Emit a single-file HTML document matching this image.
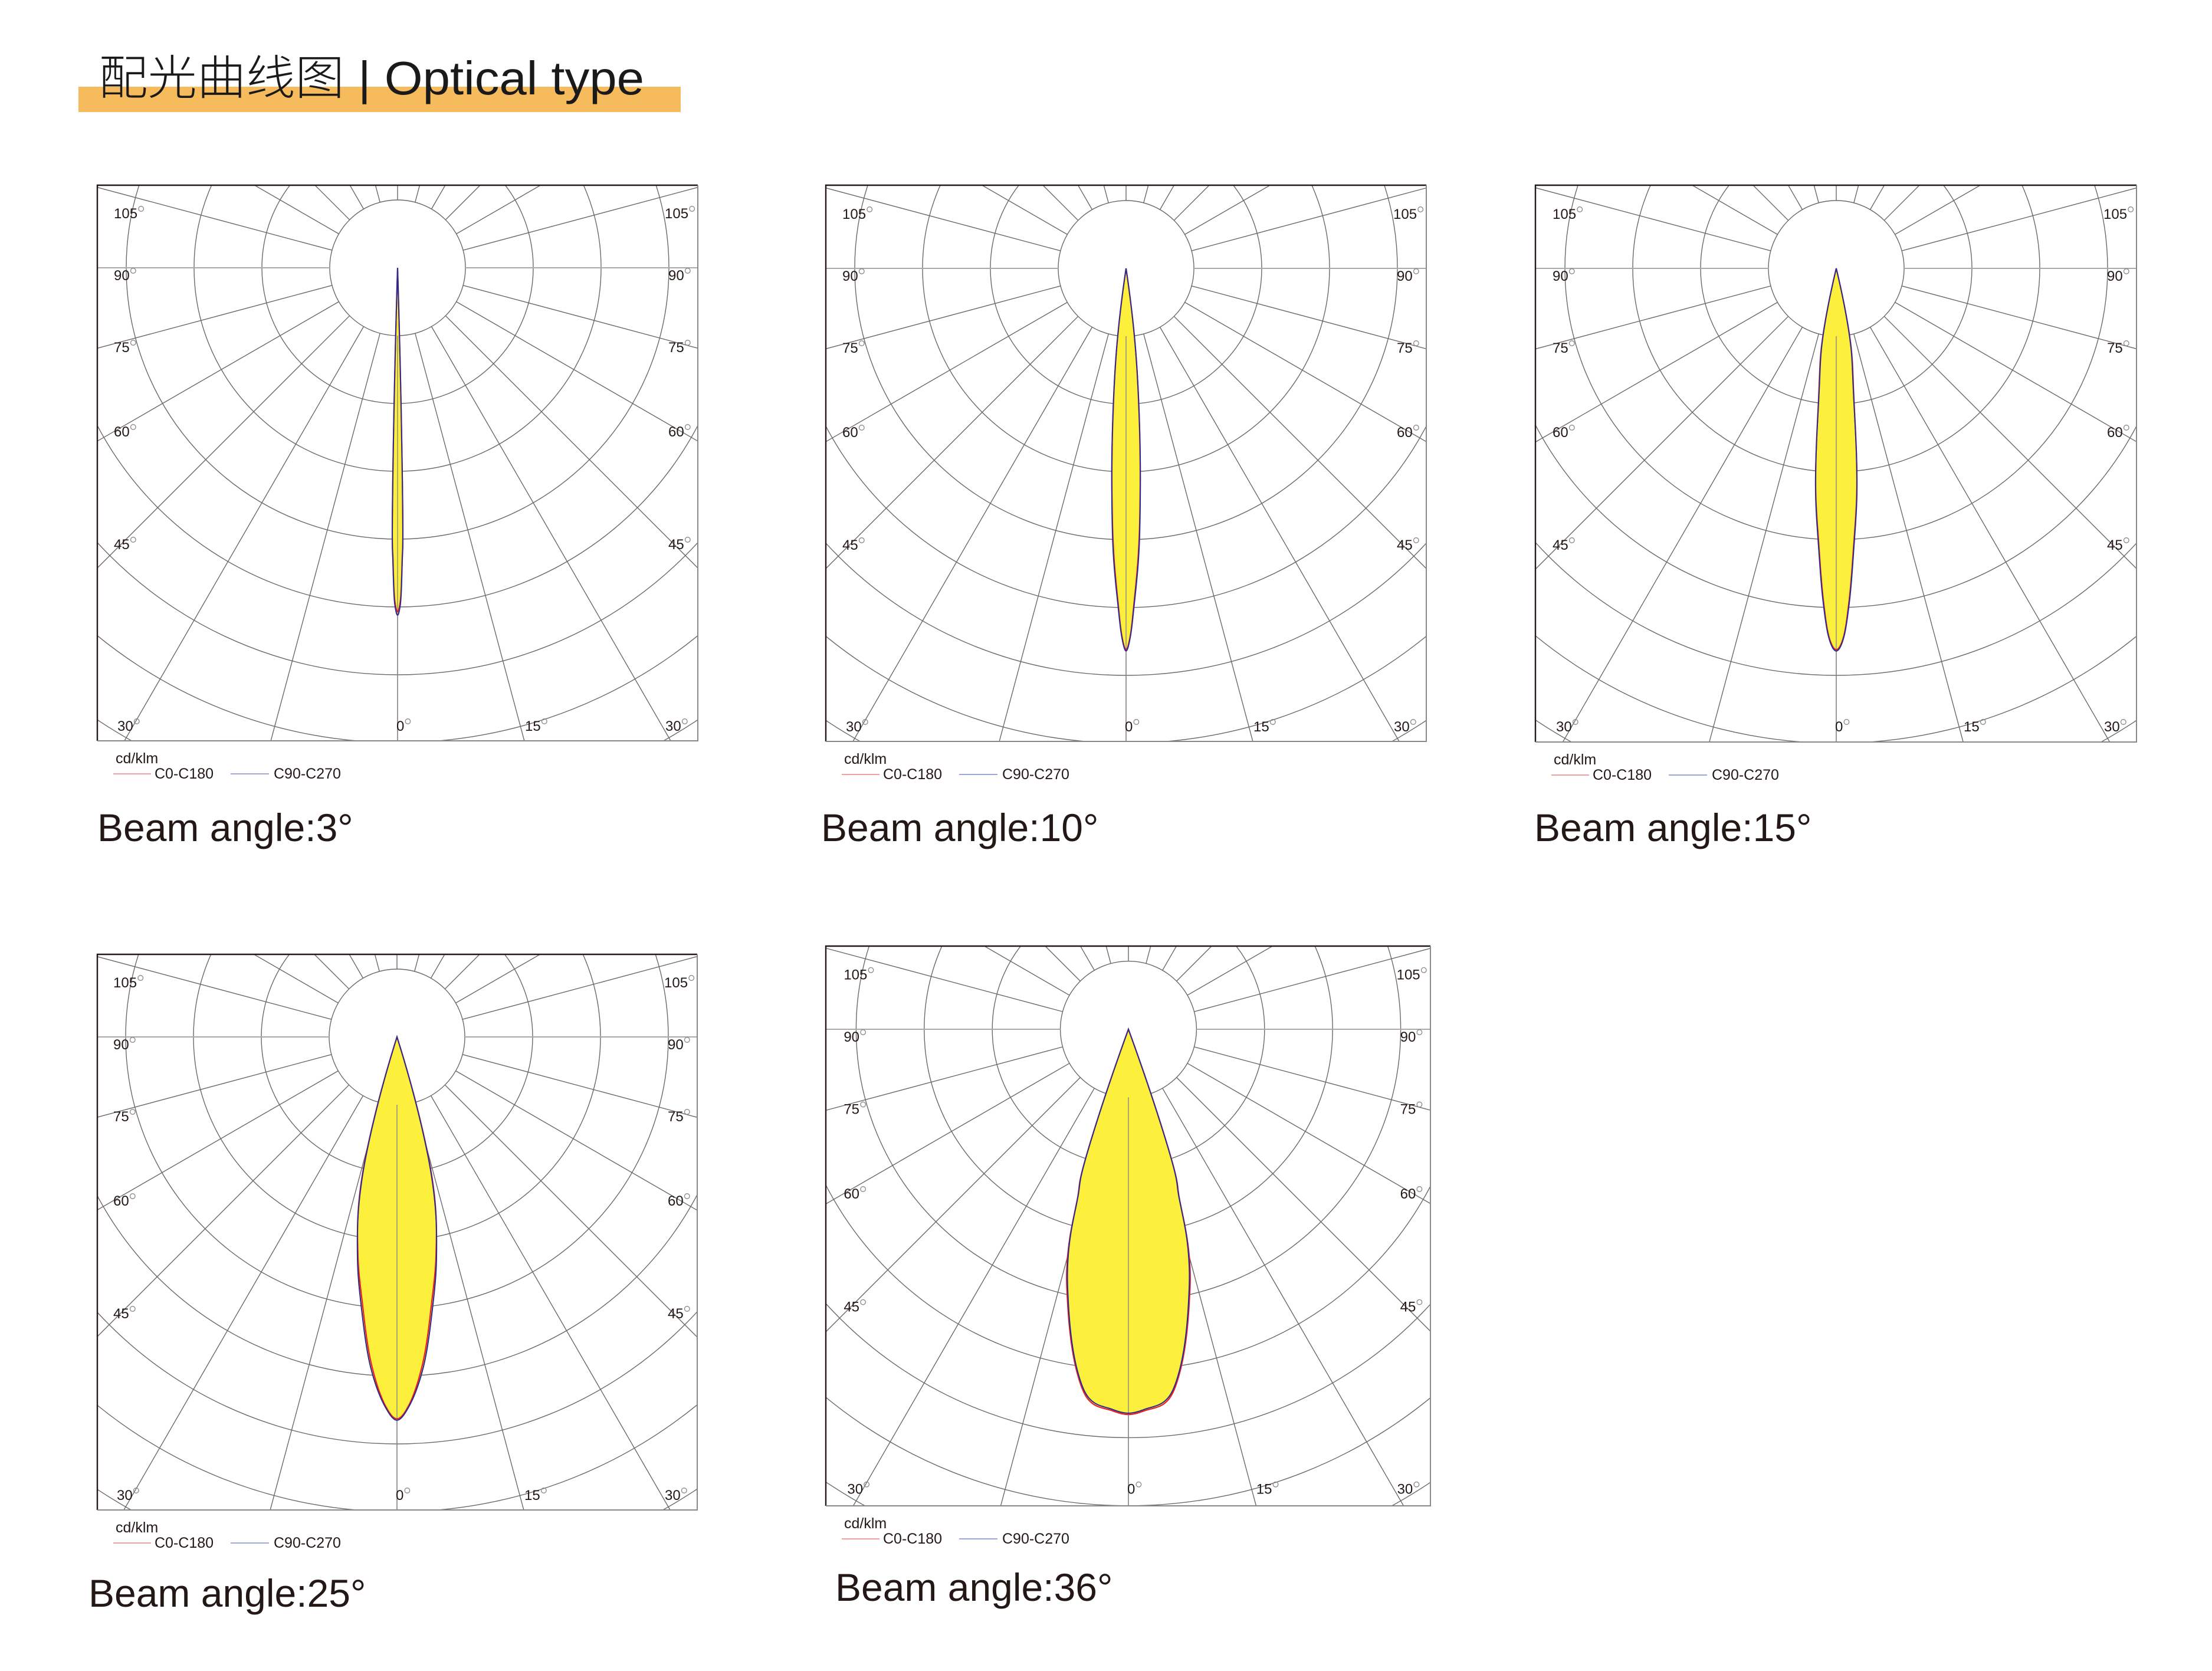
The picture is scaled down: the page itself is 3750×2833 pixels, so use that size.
<!DOCTYPE html>
<html><head><meta charset="utf-8"><title>Optical type</title>
<style>html,body{margin:0;padding:0;background:#fff;width:3750px;height:2833px;overflow:hidden;}svg{display:block;}</style></head>
<body>
<svg id="root" xmlns="http://www.w3.org/2000/svg" width="3750" height="2833" viewBox="0 0 3750 2833">
<rect x="0" y="0" width="3750" height="2833" fill="#fff"/>
<rect x="133" y="147" width="1021" height="43" fill="#f5bb5c"/>
<text x="167" y="160" font-family="'Liberation Sans','Noto Sans CJK SC',sans-serif" font-size="80" font-weight="300" fill="#1a1a1a" textLength="925" lengthAdjust="spacingAndGlyphs">配光曲线图 | Optical type</text>
<g id="charts"></g>
</svg>
<script>
// ---- data (intensity in ring units, angle in degrees from nadir) ----
const beamLabels = ["Beam angle:3°","Beam angle:10°","Beam angle:15°","Beam angle:25°","Beam angle:36°"];
const p1Angles = [0,0.3,0.6,0.9,1.15,1.3,1.45,1.6,1.75];
const p1C0 = [5.07,5.0,4.8,4.3,3.88,3.0,2.0,1.0,0];
const p1C90 = [5.12,5.05,4.85,4.35,3.9,3.1,2.1,1.05,0];
const p2Angles = [0,0.67,1.4,2.64,3.65,5.3,7.0,8.5];
const p2C0 = [5.62,5.41,4.91,4.09,3.27,2.02,1.0,0];
const p2C90 = [5.64,5.43,4.95,4.15,3.3,2.05,1.02,0];
const p3Angles = [0,1.2,2.2,3.6,5.3,7.5,11.2,13.5];
const p3C0 = [5.62,5.41,4.91,4.09,3.28,2.03,1.01,0];
const p3C90 = [5.64,5.43,4.95,4.13,3.3,2.0,0.98,0];
const p4Angles = [0,1.8,4.5,7.4,10.1,14.2,16,17.5];
const p4C0 = [5.63,5.44,4.83,3.96,3.28,2.05,1.03,0];
const p4C90 = [5.65,5.46,4.9,4.05,3.32,2.0,0.98,0];
const p5Angles = [0,2.4,6.4,8.6,12.6,14.7,15.8,16.7,18.2,19.2,20];
const p5C0 = [5.66,5.61,5.45,5.08,4.10,3.55,3.13,2.62,2.11,1.07,0];
const p5C90 = [5.64,5.59,5.42,5.05,4.06,3.5,3.1,2.6,2.08,1.05,0];
const gridAngleLabelsSide = ["105","90","75","60","45"];
const bottomLabels = ["30","0","15","30"];

const NS = "http://www.w3.org/2000/svg";
const panels = [
 {cx:674,cy:454,ring:115,bl:-509,br:509,bt:-140,bb:802,lx:165,ly:1426,ang:p1Angles,c0:p1C0,c90:p1C90},
 {cx:1909,cy:455,ring:115,bl:-509,br:509,bt:-141,bb:802,lx:1392,ly:1426,ang:p2Angles,c0:p2C0,c90:p2C90},
 {cx:3113,cy:455,ring:115,bl:-510,br:509,bt:-141,bb:803,lx:2601,ly:1426,ang:p3Angles,c0:p3C0,c90:p3C90},
 {cx:673,cy:1758,ring:115,bl:-508,br:509,bt:-140,bb:802,lx:150,ly:2724,ang:p4Angles,c0:p4C0,c90:p4C90},
 {cx:1913,cy:1745,ring:115.4,bl:-513,br:512,bt:-141,bb:808,lx:1416,ly:2714,ang:p5Angles,c0:p5C0,c90:p5C90}
];
function mk(tag, attrs, parent){const e=document.createElementNS(NS,tag);for(const k in attrs)e.setAttribute(k,attrs[k]);parent.appendChild(e);return e;}
function polar(p,r,deg){const t=deg*Math.PI/180;return [p.cx+r*Math.sin(t), p.cy+r*Math.cos(t)];}
// monotone cubic (Fritsch-Carlson) interpolation of r(theta)
function monoInterp(xs, ys){
  const n=xs.length, d=[], m=new Array(n);
  for(let i=0;i<n-1;i++)d.push((ys[i+1]-ys[i])/(xs[i+1]-xs[i]));
  m[0]=0; m[n-1]=d[n-2];
  for(let i=1;i<n-1;i++){m[i]=(d[i-1]*d[i]<=0)?0:(d[i-1]+d[i])/2;}
  for(let i=0;i<n-1;i++){
    if(d[i]===0){m[i]=0;m[i+1]=0;continue;}
    const a=m[i]/d[i], b=m[i+1]/d[i], s=a*a+b*b;
    if(s>9){const t=3/Math.sqrt(s);m[i]=t*a*d[i];m[i+1]=t*b*d[i];}
  }
  return function(x){
    let i=0; while(i<n-2 && x>xs[i+1])i++;
    const h=xs[i+1]-xs[i], t=(x-xs[i])/h;
    const h00=2*t*t*t-3*t*t+1,h10=t*t*t-2*t*t+t,h01=-2*t*t*t+3*t*t,h11=t*t*t-t*t;
    return h00*ys[i]+h10*h*m[i]+h01*ys[i+1]+h11*h*m[i+1];
  };
}
function lobePath(p, angles, vals){
  const f=monoInterp(angles, vals), tmax=angles[angles.length-1], N=160, pts=[];
  for(let k=N;k>=0;k--){const th=tmax*k/N;pts.push(polar(p,Math.max(0,f(th))*p.ring,-th));}
  for(let k=1;k<=N;k++){const th=tmax*k/N;pts.push(polar(p,Math.max(0,f(th))*p.ring,th));}
  return "M"+pts.map(q=>q[0].toFixed(2)+","+q[1].toFixed(2)).join(" L")+" Z";
}
function label(g, txt, x, y, name){
  const t=mk("text",{x:x,y:y,"font-family":"'Liberation Sans',sans-serif","font-size":"24",fill:"#231815"},g);
  
  
  t.textContent=txt;
  const c=mk("circle",{cx:x+txt.length*13.4+6,cy:y-16,r:4.3,fill:"none",stroke:"#888","stroke-width":"1.3"},g);
  
  
}
const root=document.getElementById("charts");
panels.forEach((p,idx)=>{
  const g=mk("g",{},root);
  
  
  const X0=p.cx+p.bl,X1=p.cx+p.br,Y0=p.cy+p.bt,Y1=p.cy+p.bb;
  const cp=mk("clipPath",{id:"clip"+idx},g);
  mk("rect",{x:X0,y:Y0,width:X1-X0,height:Y1-Y0},cp);
  const grid=mk("g",{"clip-path":"url(#clip"+idx+")",fill:"none",stroke:"#6a6a6a","stroke-width":"1.4"},g);
  
  
  for(let k=1;k<=9;k++){
    const c=mk("circle",{cx:p.cx,cy:p.cy,r:k*p.ring},grid);
    
    
  }
  for(let a=0;a<360;a+=15){
    const s=polar(p,p.ring,a),e=polar(p,3000,a);
    const ln=mk("line",{x1:s[0],y1:s[1],x2:e[0],y2:e[1]},grid);
    if(a===90||a===270){ln.setAttribute("stroke","#aaa");ln.setAttribute("stroke-width","2");}
    
    
  }
  const bx=mk("path",{d:`M${X0},${Y1} L${X0},${Y0} L${X1},${Y0}`,fill:"none",stroke:"#231815","stroke-width":"2.4"},g);
  
  
  const bx2=mk("path",{d:`M${X1},${Y0} L${X1},${Y1} L${X0},${Y1}`,fill:"none",stroke:"#888","stroke-width":"2"},g);
  
  
  const f1=mk("path",{d:lobePath(p,p.ang,p.c0),fill:"#fbf042",stroke:"none","fill-opacity":"0.9"},g);
  
  
  const f2=mk("path",{d:lobePath(p,p.ang,p.c90),fill:"#fdf03a",stroke:"none","fill-opacity":"0.9"},g);
  
  
  const gl=mk("line",{x1:p.cx,y1:p.cy+p.ring,x2:p.cx,y2:Y1,stroke:"#888","stroke-width":"1.4"},g);
  
  
  const s1=mk("path",{d:lobePath(p,p.ang,p.c0),fill:"none",stroke:"#e8202a","stroke-width":"2.2"},g);
  
  
  const s2=mk("path",{d:lobePath(p,p.ang,p.c90),fill:"none",stroke:"#2b2b8e","stroke-width":"2"},g);
  
  
  const sc=p.ring/115;
  const sideY=[-84,21,143,286,477];
  gridAngleLabelsSide.forEach((t,i)=>{
    label(g,t,p.cx-481*sc,p.cy+sideY[i]*sc,'angle-label-left-'+t);
    label(g,t,p.cx+459*sc-(t.length>2?6:0),p.cy+sideY[i]*sc,'angle-label-right-'+t);
  });
  const bxs=[-475,-2,216,454];
  bottomLabels.forEach((t,i)=>label(g,t,p.cx+bxs[i]*sc,p.cy+785*sc,'angle-label-bottom-'+t));
  const lgx=X0+31, lgy=Y1+38;
  const u=mk("text",{x:lgx,y:lgy,"font-family":"'Liberation Sans',sans-serif","font-size":"25",fill:"#231815"},g);
  
  
  u.textContent="cd/klm";
  const l1=mk("line",{x1:lgx-4,y1:lgy+18,x2:lgx+60,y2:lgy+18,stroke:"#e8808a","stroke-width":"1.6"},g);
  
  
  const t1=mk("text",{x:lgx+66,y:lgy+26,"font-family":"'Liberation Sans',sans-serif","font-size":"25",fill:"#231815"},g);
  
  
  t1.textContent="C0-C180";
  const l2=mk("line",{x1:lgx+195,y1:lgy+18,x2:lgx+260,y2:lgy+18,stroke:"#8088c8","stroke-width":"1.6"},g);
  
  
  const t2=mk("text",{x:lgx+268,y:lgy+26,"font-family":"'Liberation Sans',sans-serif","font-size":"25",fill:"#231815"},g);
  
  
  t2.textContent="C90-C270";
  const bt=mk("text",{x:p.lx,y:p.ly,"font-family":"'Liberation Sans','Noto Sans CJK SC',sans-serif","font-size":"66",fill:"#231815"},g);
  
  
  bt.textContent=beamLabels[idx];
});
</script>
</body></html>
